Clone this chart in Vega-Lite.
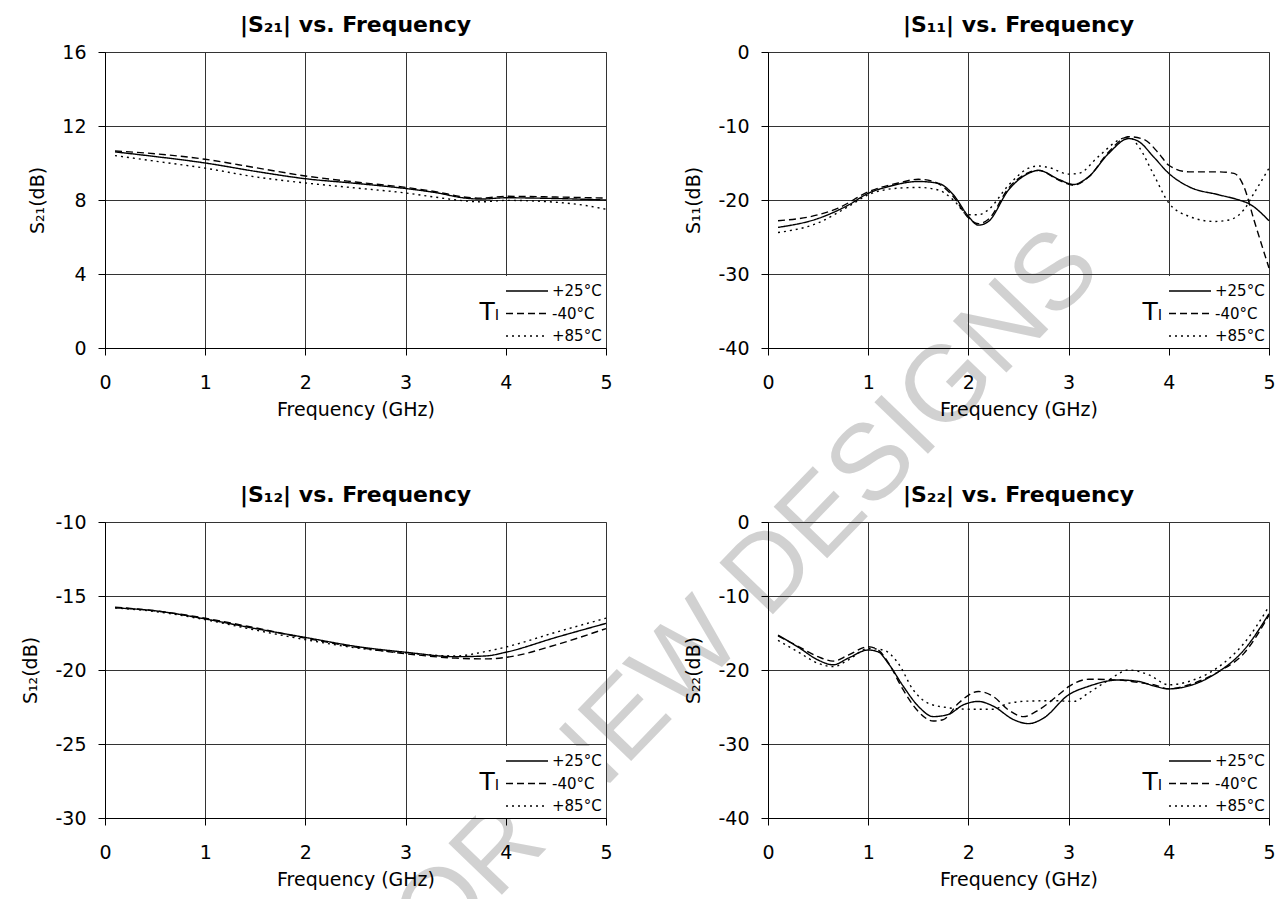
{
  "$schema": "https://vega.github.io/schema/vega-lite/v6.json",
  "autosize": {"type": "pad"},
  "padding": {"left": 21, "top": 13, "right": 0, "bottom": 0},
  "background": "white",
  "datasets": {
    "s21": [
      {"f": 0.1, "db": 10.6, "t": "+25°C"}, {"f": 0.5, "db": 10.35, "t": "+25°C"}, {"f": 1, "db": 10.0, "t": "+25°C"},
      {"f": 1.5, "db": 9.55, "t": "+25°C"}, {"f": 2, "db": 9.15, "t": "+25°C"}, {"f": 2.5, "db": 8.9, "t": "+25°C"},
      {"f": 3, "db": 8.62, "t": "+25°C"}, {"f": 3.3, "db": 8.4, "t": "+25°C"}, {"f": 3.6, "db": 8.1, "t": "+25°C"},
      {"f": 3.75, "db": 8.05, "t": "+25°C"}, {"f": 4, "db": 8.12, "t": "+25°C"}, {"f": 4.5, "db": 8.08, "t": "+25°C"},
      {"f": 5, "db": 8.0, "t": "+25°C"},
      {"f": 0.1, "db": 10.65, "t": "-40°C"}, {"f": 0.5, "db": 10.5, "t": "-40°C"}, {"f": 1, "db": 10.2, "t": "-40°C"},
      {"f": 1.5, "db": 9.75, "t": "-40°C"}, {"f": 2, "db": 9.3, "t": "-40°C"}, {"f": 2.5, "db": 8.97, "t": "-40°C"},
      {"f": 3, "db": 8.68, "t": "-40°C"}, {"f": 3.3, "db": 8.45, "t": "-40°C"}, {"f": 3.6, "db": 8.15, "t": "-40°C"},
      {"f": 3.75, "db": 8.1, "t": "-40°C"}, {"f": 4, "db": 8.2, "t": "-40°C"}, {"f": 4.5, "db": 8.16, "t": "-40°C"},
      {"f": 5, "db": 8.1, "t": "-40°C"},
      {"f": 0.1, "db": 10.4, "t": "+85°C"}, {"f": 0.5, "db": 10.1, "t": "+85°C"}, {"f": 1, "db": 9.72, "t": "+85°C"},
      {"f": 1.5, "db": 9.25, "t": "+85°C"}, {"f": 2, "db": 8.92, "t": "+85°C"}, {"f": 2.5, "db": 8.65, "t": "+85°C"},
      {"f": 3, "db": 8.38, "t": "+85°C"}, {"f": 3.3, "db": 8.15, "t": "+85°C"}, {"f": 3.6, "db": 7.95, "t": "+85°C"},
      {"f": 3.75, "db": 7.9, "t": "+85°C"}, {"f": 4, "db": 7.98, "t": "+85°C"}, {"f": 4.5, "db": 7.88, "t": "+85°C"},
      {"f": 4.8, "db": 7.7, "t": "+85°C"}, {"f": 5, "db": 7.5, "t": "+85°C"}
    ],
    "s11": [
      {"f": 0.1, "db": -23.7, "t": "+25°C"}, {"f": 0.5, "db": -22.5, "t": "+25°C"}, {"f": 0.8, "db": -20.7, "t": "+25°C"},
      {"f": 1, "db": -19.1, "t": "+25°C"}, {"f": 1.2, "db": -18.2, "t": "+25°C"}, {"f": 1.5, "db": -17.5, "t": "+25°C"},
      {"f": 1.7, "db": -17.75, "t": "+25°C"}, {"f": 1.85, "db": -19.3, "t": "+25°C"}, {"f": 2, "db": -22.2, "t": "+25°C"},
      {"f": 2.1, "db": -23.4, "t": "+25°C"}, {"f": 2.2, "db": -22.9, "t": "+25°C"}, {"f": 2.4, "db": -18.65, "t": "+25°C"},
      {"f": 2.6, "db": -16.4, "t": "+25°C"}, {"f": 2.7, "db": -16.0, "t": "+25°C"}, {"f": 2.9, "db": -17.2, "t": "+25°C"},
      {"f": 3.05, "db": -17.9, "t": "+25°C"}, {"f": 3.2, "db": -16.85, "t": "+25°C"}, {"f": 3.4, "db": -13.7, "t": "+25°C"},
      {"f": 3.6, "db": -11.7, "t": "+25°C"}, {"f": 3.7, "db": -12.1, "t": "+25°C"}, {"f": 3.85, "db": -14.2, "t": "+25°C"},
      {"f": 4, "db": -16.4, "t": "+25°C"}, {"f": 4.2, "db": -18.2, "t": "+25°C"}, {"f": 4.5, "db": -19.3, "t": "+25°C"},
      {"f": 4.7, "db": -20.0, "t": "+25°C"}, {"f": 4.8, "db": -20.5, "t": "+25°C"}, {"f": 5, "db": -22.8, "t": "+25°C"},
      {"f": 0.1, "db": -22.8, "t": "-40°C"}, {"f": 0.5, "db": -22.0, "t": "-40°C"}, {"f": 0.7, "db": -21.1, "t": "-40°C"},
      {"f": 1, "db": -18.9, "t": "-40°C"}, {"f": 1.3, "db": -17.7, "t": "-40°C"}, {"f": 1.5, "db": -17.2, "t": "-40°C"},
      {"f": 1.65, "db": -17.5, "t": "-40°C"}, {"f": 1.85, "db": -19.55, "t": "-40°C"}, {"f": 2, "db": -22.4, "t": "-40°C"},
      {"f": 2.1, "db": -23.2, "t": "-40°C"}, {"f": 2.2, "db": -22.6, "t": "-40°C"}, {"f": 2.4, "db": -18.4, "t": "-40°C"},
      {"f": 2.6, "db": -16.3, "t": "-40°C"}, {"f": 2.7, "db": -16.0, "t": "-40°C"}, {"f": 2.9, "db": -17.3, "t": "-40°C"},
      {"f": 3.05, "db": -18.0, "t": "-40°C"}, {"f": 3.2, "db": -16.9, "t": "-40°C"}, {"f": 3.4, "db": -13.5, "t": "-40°C"},
      {"f": 3.6, "db": -11.45, "t": "-40°C"}, {"f": 3.75, "db": -11.8, "t": "-40°C"}, {"f": 3.9, "db": -13.7, "t": "-40°C"},
      {"f": 4, "db": -15.3, "t": "-40°C"}, {"f": 4.2, "db": -16.2, "t": "-40°C"}, {"f": 4.5, "db": -16.2, "t": "-40°C"},
      {"f": 4.65, "db": -16.4, "t": "-40°C"}, {"f": 4.75, "db": -18.2, "t": "-40°C"}, {"f": 4.85, "db": -22.7, "t": "-40°C"},
      {"f": 5, "db": -29.2, "t": "-40°C"},
      {"f": 0.1, "db": -24.4, "t": "+85°C"}, {"f": 0.5, "db": -23.1, "t": "+85°C"}, {"f": 0.8, "db": -20.9, "t": "+85°C"},
      {"f": 1, "db": -19.3, "t": "+85°C"}, {"f": 1.3, "db": -18.4, "t": "+85°C"}, {"f": 1.5, "db": -18.3, "t": "+85°C"},
      {"f": 1.7, "db": -18.65, "t": "+85°C"}, {"f": 1.85, "db": -20.0, "t": "+85°C"}, {"f": 2, "db": -22.0, "t": "+85°C"},
      {"f": 2.1, "db": -22.0, "t": "+85°C"}, {"f": 2.2, "db": -21.3, "t": "+85°C"}, {"f": 2.4, "db": -18.0, "t": "+85°C"},
      {"f": 2.6, "db": -15.7, "t": "+85°C"}, {"f": 2.7, "db": -15.4, "t": "+85°C"}, {"f": 2.8, "db": -15.6, "t": "+85°C"},
      {"f": 3, "db": -16.5, "t": "+85°C"}, {"f": 3.1, "db": -16.4, "t": "+85°C"}, {"f": 3.3, "db": -14.1, "t": "+85°C"},
      {"f": 3.5, "db": -11.9, "t": "+85°C"}, {"f": 3.6, "db": -11.45, "t": "+85°C"}, {"f": 3.7, "db": -12.8, "t": "+85°C"},
      {"f": 3.85, "db": -16.6, "t": "+85°C"}, {"f": 4, "db": -20.4, "t": "+85°C"}, {"f": 4.2, "db": -22.2, "t": "+85°C"},
      {"f": 4.45, "db": -22.9, "t": "+85°C"}, {"f": 4.6, "db": -22.7, "t": "+85°C"}, {"f": 4.75, "db": -21.3, "t": "+85°C"},
      {"f": 4.85, "db": -19.1, "t": "+85°C"}, {"f": 5, "db": -15.7, "t": "+85°C"}
    ],
    "s12": [
      {"f": 0.1, "db": -15.8, "t": "+25°C"}, {"f": 0.5, "db": -16.0, "t": "+25°C"}, {"f": 1, "db": -16.55, "t": "+25°C"},
      {"f": 1.5, "db": -17.2, "t": "+25°C"}, {"f": 2, "db": -17.8, "t": "+25°C"}, {"f": 2.5, "db": -18.4, "t": "+25°C"},
      {"f": 3, "db": -18.8, "t": "+25°C"}, {"f": 3.5, "db": -19.1, "t": "+25°C"}, {"f": 3.8, "db": -19.05, "t": "+25°C"},
      {"f": 4, "db": -18.8, "t": "+25°C"}, {"f": 4.5, "db": -17.8, "t": "+25°C"}, {"f": 5, "db": -16.85, "t": "+25°C"},
      {"f": 0.1, "db": -15.75, "t": "-40°C"}, {"f": 0.5, "db": -16.0, "t": "-40°C"}, {"f": 1, "db": -16.5, "t": "-40°C"},
      {"f": 1.5, "db": -17.15, "t": "-40°C"}, {"f": 2, "db": -17.85, "t": "-40°C"}, {"f": 2.5, "db": -18.45, "t": "-40°C"},
      {"f": 3, "db": -18.9, "t": "-40°C"}, {"f": 3.5, "db": -19.2, "t": "-40°C"}, {"f": 3.8, "db": -19.25, "t": "-40°C"},
      {"f": 4, "db": -19.15, "t": "-40°C"}, {"f": 4.5, "db": -18.3, "t": "-40°C"}, {"f": 5, "db": -17.2, "t": "-40°C"},
      {"f": 0.1, "db": -15.8, "t": "+85°C"}, {"f": 0.5, "db": -16.05, "t": "+85°C"}, {"f": 1, "db": -16.6, "t": "+85°C"},
      {"f": 1.5, "db": -17.3, "t": "+85°C"}, {"f": 2, "db": -17.95, "t": "+85°C"}, {"f": 2.5, "db": -18.5, "t": "+85°C"},
      {"f": 3, "db": -18.85, "t": "+85°C"}, {"f": 3.5, "db": -19.05, "t": "+85°C"}, {"f": 3.8, "db": -18.75, "t": "+85°C"},
      {"f": 4, "db": -18.45, "t": "+85°C"}, {"f": 4.5, "db": -17.45, "t": "+85°C"}, {"f": 5, "db": -16.5, "t": "+85°C"}
    ],
    "s22": [
      {"f": 0.1, "db": -15.3, "t": "+25°C"}, {"f": 0.3, "db": -16.9, "t": "+25°C"}, {"f": 0.5, "db": -18.65, "t": "+25°C"},
      {"f": 0.65, "db": -19.3, "t": "+25°C"}, {"f": 0.8, "db": -18.4, "t": "+25°C"}, {"f": 1, "db": -17.3, "t": "+25°C"},
      {"f": 1.1, "db": -17.55, "t": "+25°C"}, {"f": 1.2, "db": -19.1, "t": "+25°C"}, {"f": 1.35, "db": -22.2, "t": "+25°C"},
      {"f": 1.5, "db": -24.9, "t": "+25°C"}, {"f": 1.65, "db": -26.3, "t": "+25°C"}, {"f": 1.8, "db": -26.0, "t": "+25°C"},
      {"f": 1.95, "db": -24.7, "t": "+25°C"}, {"f": 2.1, "db": -24.25, "t": "+25°C"}, {"f": 2.25, "db": -24.9, "t": "+25°C"},
      {"f": 2.45, "db": -26.7, "t": "+25°C"}, {"f": 2.6, "db": -27.25, "t": "+25°C"}, {"f": 2.75, "db": -26.5, "t": "+25°C"},
      {"f": 3, "db": -23.35, "t": "+25°C"}, {"f": 3.2, "db": -22.2, "t": "+25°C"}, {"f": 3.5, "db": -21.35, "t": "+25°C"},
      {"f": 3.7, "db": -21.55, "t": "+25°C"}, {"f": 3.85, "db": -22.15, "t": "+25°C"}, {"f": 4, "db": -22.55, "t": "+25°C"},
      {"f": 4.2, "db": -22.15, "t": "+25°C"}, {"f": 4.5, "db": -20.2, "t": "+25°C"}, {"f": 4.75, "db": -17.3, "t": "+25°C"},
      {"f": 5, "db": -12.4, "t": "+25°C"},
      {"f": 0.1, "db": -15.4, "t": "-40°C"}, {"f": 0.3, "db": -16.8, "t": "-40°C"}, {"f": 0.5, "db": -18.2, "t": "-40°C"},
      {"f": 0.65, "db": -18.8, "t": "-40°C"}, {"f": 0.8, "db": -18.0, "t": "-40°C"}, {"f": 1, "db": -16.85, "t": "-40°C"},
      {"f": 1.1, "db": -17.3, "t": "-40°C"}, {"f": 1.2, "db": -19.0, "t": "-40°C"}, {"f": 1.35, "db": -22.7, "t": "-40°C"},
      {"f": 1.5, "db": -25.6, "t": "-40°C"}, {"f": 1.65, "db": -26.9, "t": "-40°C"}, {"f": 1.75, "db": -26.7, "t": "-40°C"},
      {"f": 1.9, "db": -24.5, "t": "-40°C"}, {"f": 2.1, "db": -22.9, "t": "-40°C"}, {"f": 2.25, "db": -23.6, "t": "-40°C"},
      {"f": 2.4, "db": -25.4, "t": "-40°C"}, {"f": 2.55, "db": -26.3, "t": "-40°C"}, {"f": 2.7, "db": -25.4, "t": "-40°C"},
      {"f": 2.9, "db": -23.35, "t": "-40°C"}, {"f": 3, "db": -22.25, "t": "-40°C"}, {"f": 3.2, "db": -21.25, "t": "-40°C"},
      {"f": 3.5, "db": -21.35, "t": "-40°C"}, {"f": 3.7, "db": -21.7, "t": "-40°C"}, {"f": 3.85, "db": -22.0, "t": "-40°C"},
      {"f": 4, "db": -22.55, "t": "-40°C"}, {"f": 4.2, "db": -22.0, "t": "-40°C"}, {"f": 4.5, "db": -20.2, "t": "-40°C"},
      {"f": 4.75, "db": -17.75, "t": "-40°C"}, {"f": 5, "db": -12.6, "t": "-40°C"},
      {"f": 0.1, "db": -16.0, "t": "+85°C"}, {"f": 0.3, "db": -17.55, "t": "+85°C"}, {"f": 0.5, "db": -19.1, "t": "+85°C"},
      {"f": 0.65, "db": -19.55, "t": "+85°C"}, {"f": 0.8, "db": -18.65, "t": "+85°C"}, {"f": 1, "db": -17.1, "t": "+85°C"},
      {"f": 1.15, "db": -17.3, "t": "+85°C"}, {"f": 1.3, "db": -19.1, "t": "+85°C"}, {"f": 1.45, "db": -22.7, "t": "+85°C"},
      {"f": 1.6, "db": -24.5, "t": "+85°C"}, {"f": 1.8, "db": -25.1, "t": "+85°C"}, {"f": 2, "db": -25.3, "t": "+85°C"},
      {"f": 2.25, "db": -25.3, "t": "+85°C"}, {"f": 2.4, "db": -24.5, "t": "+85°C"}, {"f": 2.6, "db": -24.2, "t": "+85°C"},
      {"f": 2.85, "db": -24.15, "t": "+85°C"}, {"f": 3.05, "db": -24.25, "t": "+85°C"}, {"f": 3.2, "db": -23.1, "t": "+85°C"},
      {"f": 3.4, "db": -21.35, "t": "+85°C"}, {"f": 3.6, "db": -20.0, "t": "+85°C"}, {"f": 3.8, "db": -20.65, "t": "+85°C"},
      {"f": 4, "db": -22.0, "t": "+85°C"}, {"f": 4.2, "db": -21.55, "t": "+85°C"}, {"f": 4.5, "db": -19.55, "t": "+85°C"},
      {"f": 4.75, "db": -16.4, "t": "+85°C"}, {"f": 5, "db": -11.4, "t": "+85°C"}
    ]
  },
  "columns": 2,
  "spacing": {"row": 174, "column": 162},
  "bounds": "flush",
  "resolve": {"scale": {"strokeDash": "independent"}, "legend": {"strokeDash": "independent"}},
  "concat": [
    {
      "title": "|S₂₁| vs. Frequency",
      "width": 501,
      "height": 296,
      "layer": [
        {
          "data": {"values": [{}]},
          "mark": {"type": "text", "angle": -46, "font": "Liberation Sans", "fontSize": 108, "color": "#b4b4b4", "opacity": 0.6, "align": "center", "baseline": "middle"},
          "encoding": {
            "x": {"datum": 5.3, "type": "quantitative", "scale": {"domain": [0, 5]}, "axis": {"values": [0, 1, 2, 3, 4, 5], "title": "Frequency (GHz)", "labelExpr": "'' + datum.value"}},
            "y": {"datum": -19.57, "type": "quantitative", "scale": {"domain": [0, 16]}, "axis": {"values": [0, 4, 8, 12, 16], "title": "S₂₁(dB)", "labelExpr": "'' + datum.value"}},
            "text": {"value": "NOT FOR NEW DESIGNS"}
          }
        },
        {
          "data": {"name": "s21"},
          "mark": {"type": "line", "interpolate": "monotone"},
          "encoding": {
            "x": {"field": "f", "type": "quantitative", "scale": {"domain": [0, 5]}, "axis": {"values": [0, 1, 2, 3, 4, 5], "title": "Frequency (GHz)", "labelExpr": "'' + datum.value"}},
            "y": {"field": "db", "type": "quantitative", "scale": {"domain": [0, 16]}, "axis": {"values": [0, 4, 8, 12, 16], "title": "S₂₁(dB)", "labelExpr": "'' + datum.value"}},
            "strokeDash": {
              "field": "t", "type": "nominal",
              "scale": {"domain": ["+25°C", "-40°C", "+85°C"], "range": [[1, 0], [7, 4], [2, 4]]},
              "legend": {"title": "Tₗ", "symbolType": "M-2,0H2", "encode": {"title": {"update": {"angle": {"value": 0}}}}}
            }
          }
        }
      ]
    },
    {
      "title": "|S₁₁| vs. Frequency",
      "width": 501,
      "height": 296,
      "data": {"name": "s11"},
      "mark": {"type": "line", "interpolate": "monotone"},
      "encoding": {
        "x": {"field": "f", "type": "quantitative", "scale": {"domain": [0, 5]}, "axis": {"values": [0, 1, 2, 3, 4, 5], "title": "Frequency (GHz)", "labelExpr": "'' + datum.value"}},
        "y": {"field": "db", "type": "quantitative", "scale": {"domain": [-40, 0]}, "axis": {"values": [0, -10, -20, -30, -40], "title": "S₁₁(dB)", "labelExpr": "'' + datum.value"}},
        "strokeDash": {
          "field": "t", "type": "nominal",
          "scale": {"domain": ["+25°C", "-40°C", "+85°C"], "range": [[1, 0], [7, 4], [2, 4]]},
          "legend": {"title": "Tₗ", "symbolType": "M-2,0H2", "encode": {"title": {"update": {"angle": {"value": 0}}}}}
        }
      }
    },
    {
      "title": "|S₁₂| vs. Frequency",
      "width": 501,
      "height": 296,
      "data": {"name": "s12"},
      "mark": {"type": "line", "interpolate": "monotone"},
      "encoding": {
        "x": {"field": "f", "type": "quantitative", "scale": {"domain": [0, 5]}, "axis": {"values": [0, 1, 2, 3, 4, 5], "title": "Frequency (GHz)", "labelExpr": "'' + datum.value"}},
        "y": {"field": "db", "type": "quantitative", "scale": {"domain": [-30, -10]}, "axis": {"values": [-10, -15, -20, -25, -30], "title": "S₁₂(dB)", "labelExpr": "'' + datum.value"}},
        "strokeDash": {
          "field": "t", "type": "nominal",
          "scale": {"domain": ["+25°C", "-40°C", "+85°C"], "range": [[1, 0], [7, 4], [2, 4]]},
          "legend": {"title": "Tₗ", "symbolType": "M-2,0H2", "encode": {"title": {"update": {"angle": {"value": 0}}}}}
        }
      }
    },
    {
      "title": "|S₂₂| vs. Frequency",
      "width": 501,
      "height": 296,
      "data": {"name": "s22"},
      "mark": {"type": "line", "interpolate": "monotone"},
      "encoding": {
        "x": {"field": "f", "type": "quantitative", "scale": {"domain": [0, 5]}, "axis": {"values": [0, 1, 2, 3, 4, 5], "title": "Frequency (GHz)", "labelExpr": "'' + datum.value"}},
        "y": {"field": "db", "type": "quantitative", "scale": {"domain": [-40, 0]}, "axis": {"values": [0, -10, -20, -30, -40], "title": "S₂₂(dB)", "labelExpr": "'' + datum.value"}},
        "strokeDash": {
          "field": "t", "type": "nominal",
          "scale": {"domain": ["+25°C", "-40°C", "+85°C"], "range": [[1, 0], [7, 4], [2, 4]]},
          "legend": {"title": "Tₗ", "symbolType": "M-2,0H2", "encode": {"title": {"update": {"angle": {"value": 0}}}}}
        }
      }
    }
  ],
  "config": {
    "font": "DejaVu Sans",
    "view": {"stroke": "#888888", "strokeWidth": 1},
    "title": {"fontSize": 22, "fontWeight": "bold", "color": "black", "frame": "group", "offset": 6, "anchor": "middle"},
    "axis": {
      "grid": true, "gridColor": "#333333", "gridOpacity": 1, "gridWidth": 1,
      "domainColor": "black", "domainWidth": 1, "tickColor": "black", "tickSize": 7, "tickWidth": 1,
      "labelColor": "black", "labelFontSize": 19, "labelFlush": false, "labelOverlap": false,
      "titleColor": "black", "titleFontSize": 19, "titleFontWeight": "normal"
    },
    "axisX": {"labelPadding": 18, "titlePadding": 8},
    "axisY": {"labelPadding": 12, "titlePadding": 14},
    "legend": {
      "orient": "bottom-right", "offset": 0, "fillColor": "white", "padding": 3.5, "rowPadding": 2.5,
      "symbolSize": 441, "symbolStrokeWidth": 1.3, "symbolStrokeColor": "black",
      "labelFontSize": 15, "labelColor": "black", "labelOffset": 13.5,
      "titleOrient": "left", "titleFontSize": 25, "titleFontWeight": "normal", "titleColor": "black",
      "titlePadding": 16, "titleAnchor": "middle", "titleBaseline": "middle", "titleAlign": "left"
    },
    "line": {"color": "black", "strokeWidth": 1.4}
  }
}
